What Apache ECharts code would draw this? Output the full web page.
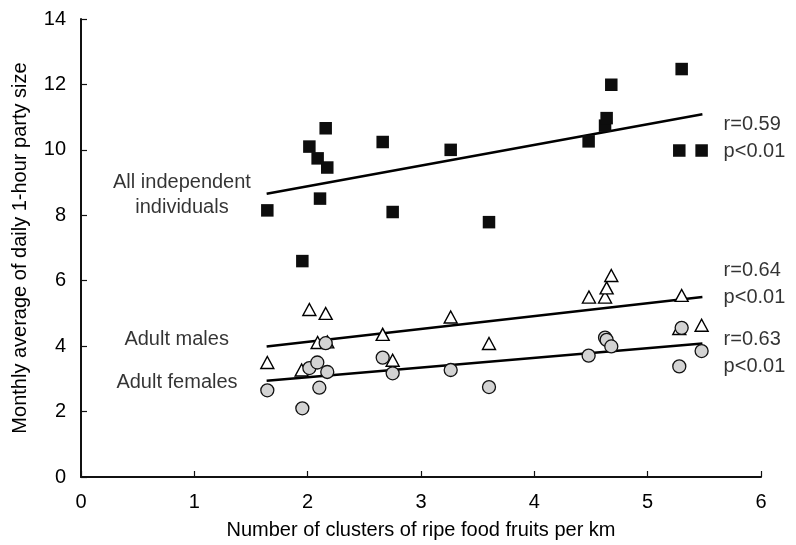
<!DOCTYPE html>
<html>
<head>
<meta charset="utf-8">
<script src="https://cdn.jsdelivr.net/npm/echarts@6/dist/echarts.min.js"></script>
<style>
html,body{margin:0;padding:0;background:#fff;}
#chart{width:796px;height:545px;}
</style>
</head>
<body>
<div id="chart"></div>
<script>
// ---- data ----
var allX = [1.644, 1.953, 2.015, 2.088, 2.109, 2.159, 2.173, 2.662, 2.750, 3.262, 3.600, 4.479, 4.624, 4.638, 4.679, 5.279, 5.300, 5.476];
var allY = [8.15, 6.60, 10.10, 9.74, 8.51, 10.66, 9.46, 10.24, 8.10, 10.00, 7.79, 10.26, 10.74, 10.97, 11.99, 9.98, 12.47, 9.98];

var malesX = [1.644, 1.947, 2.015, 2.088, 2.159, 2.173, 2.662, 2.750, 3.262, 3.600, 4.482, 4.624, 4.638, 4.679, 5.279, 5.300, 5.476];
var malesY = [3.50, 3.27, 5.12, 4.11, 5.00, 4.13, 4.36, 3.57, 4.89, 4.08, 5.50, 5.50, 5.78, 6.16, 4.54, 5.55, 4.64];

var femalesX = [1.644, 1.953, 2.015, 2.085, 2.103, 2.159, 2.173, 2.662, 2.750, 3.262, 3.600, 4.479, 4.624, 4.638, 4.679, 5.279, 5.300, 5.476];
var femalesY = [2.65, 2.10, 3.33, 3.50, 2.73, 4.09, 3.21, 3.65, 3.17, 3.27, 2.75, 3.71, 4.26, 4.19, 3.99, 3.38, 4.56, 3.85];

// regression line endpoints
var allLineX = [1.638, 5.483];
var allLineY = [8.66, 11.09];
var malesLineX = [1.638, 5.483];
var malesLineY = [3.99, 5.50];
var femalesLineX = [1.638, 5.483];
var femalesLineY = [2.94, 4.08];

// text annotations (anchored in data coordinates)
var statText = ['r=0.59\np<0.01', 'r=0.64\np<0.01', 'r=0.63\np<0.01'];
var statX = [5.67, 5.67, 5.67];
var statY = [10.36, 5.91, 3.79];

var groupText = ['All independent\nindividuals', 'Adult males', 'Adult females'];
var groupX = [0.891, 0.844, 0.847];
var groupY = [8.63, 4.19, 2.89];

var xTicks = [0, 1, 2, 3, 4, 5, 6];
var yTicks = [0, 2, 4, 6, 8, 10, 12, 14];

var xTitle = 'Number of clusters of ripe food fruits per km';
var yTitle = 'Monthly average of daily 1-hour party size';

// ---- build ----
function zip(xs, ys) { return xs.map(function (x, i) { return [x, ys[i]]; }); }
function zipText(xs, ys, t) { return xs.map(function (x, i) { return { value: [x, ys[i]], name: t[i] }; }); }

var FONT = '"Liberation Sans", Arial, Helvetica, sans-serif';
var TXT = '#000';

var lineStyle = { color: '#000', width: 2.5 };

var option = {
  animation: false,
  backgroundColor: '#fff',
  textStyle: { fontFamily: FONT, color: TXT },
  grid: { left: 81, right: 35, top: 19, bottom: 67, containLabel: false },
  xAxis: {
    type: 'value', min: xTicks[0], max: xTicks[xTicks.length - 1], interval: 1,
    name: xTitle, nameLocation: 'middle', nameGap: 43,
    nameTextStyle: { fontSize: 20, color: TXT, fontFamily: FONT },
    axisLine: { show: true, lineStyle: { color: '#111', width: 2 } },
    axisTick: { show: true, inside: true, length: 6, lineStyle: { color: '#111', width: 1.2 } },
    axisLabel: { fontSize: 20, color: TXT, margin: 15, fontFamily: FONT },
    splitLine: { show: false }
  },
  yAxis: {
    type: 'value', min: yTicks[0], max: yTicks[yTicks.length - 1], interval: 2,
    name: yTitle, nameLocation: 'middle', nameGap: 51, nameRotate: 90,
    nameTextStyle: { fontSize: 20, color: TXT, fontFamily: FONT },
    axisLine: { show: true, lineStyle: { color: '#111', width: 2 } },
    axisTick: { show: true, inside: true, length: 6, lineStyle: { color: '#111', width: 1.2 } },
    axisLabel: { fontSize: 20, color: TXT, margin: 15, fontFamily: FONT },
    splitLine: { show: false }
  },
  series: [
    { type: 'line', data: zip(allLineX, allLineY), symbol: 'none', lineStyle: lineStyle, z: 2 },
    { type: 'line', data: zip(malesLineX, malesLineY), symbol: 'none', lineStyle: lineStyle, z: 2 },
    { type: 'line', data: zip(femalesLineX, femalesLineY), symbol: 'none', lineStyle: lineStyle, z: 2 },
    {
      type: 'scatter', data: zip(allX, allY), symbol: 'rect', symbolSize: 12.5,
      itemStyle: { color: '#0d0d0d', opacity: 1 }, z: 3
    },
    {
      type: 'scatter', data: zip(malesX, malesY), symbol: 'triangle', symbolSize: [13, 12],
      itemStyle: { color: '#fff', borderColor: '#000', borderWidth: 1.4, opacity: 1 }, z: 3
    },
    {
      type: 'scatter', data: zip(femalesX, femalesY), symbol: 'circle', symbolSize: 13,
      itemStyle: { color: '#d3d3d3', borderColor: '#111', borderWidth: 1.3, opacity: 1 }, z: 4
    },
    {
      type: 'scatter', data: zipText(statX, statY, statText), symbolSize: 0, silent: true, z: 5,
      label: {
        show: true, position: 'right', distance: 0, formatter: '{b}',
        fontSize: 20, lineHeight: 27, color: TXT, fontFamily: FONT, align: 'left'
      }
    },
    {
      type: 'scatter', data: zipText(groupX, groupY, groupText), symbolSize: 0, silent: true, z: 5,
      label: {
        show: true, position: 'inside', formatter: '{b}',
        fontSize: 20, lineHeight: 25, color: TXT, fontFamily: FONT, align: 'center', verticalAlign: 'middle'
      }
    }
  ]
};

var chart = echarts.init(document.getElementById('chart'), null, { renderer: 'canvas' });
chart.setOption(option);
</script>
</body>
</html>
